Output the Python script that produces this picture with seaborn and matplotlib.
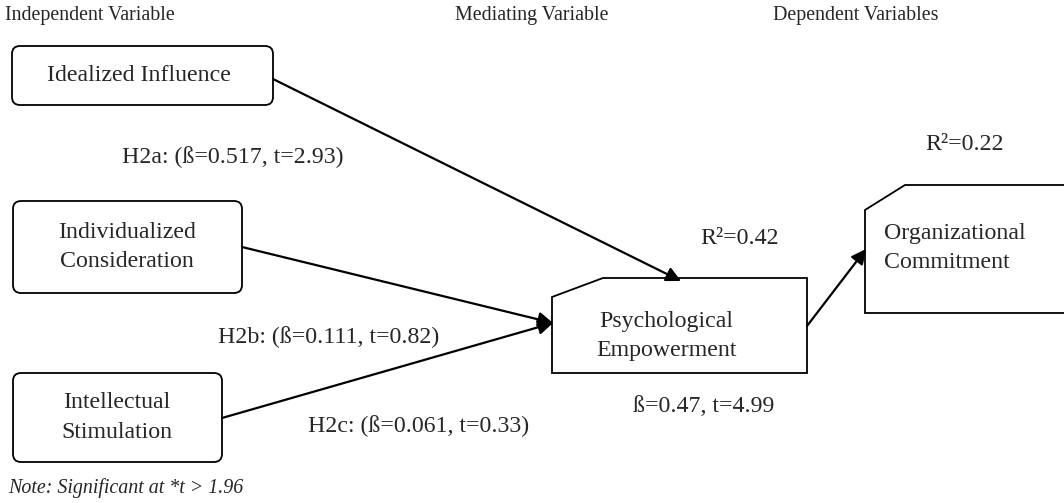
import matplotlib
matplotlib.use("Agg")
import matplotlib.pyplot as plt
import seaborn as sns
from matplotlib.patches import FancyBboxPatch, Polygon, FancyArrowPatch

# ---- data ----
headers = ["Independent Variable", "Mediating Variable", "Dependent Variables"]
independent = ["Idealized Influence", "Individualized\nConsideration", "Intellectual\nStimulation"]
mediator = "Psychological\nEmpowerment"
dependent = "Organizational\nCommitment"
path_labels = ["H2a: (ß=0.517, t=2.93)", "H2b: (ß=0.111, t=0.82)", "H2c: (ß=0.061, t=0.33)"]
mediator_path_label = "ß=0.47, t=4.99"
r2_labels = ["R²=0.42", "R²=0.22"]
note = "Note: Significant at *t > 1.96"

sns.set_theme(style="white")
plt.rcParams['font.family'] = ['Liberation Serif', 'DejaVu Serif']

fig = plt.figure(figsize=(10.64, 5.03), dpi=100)
ax = fig.add_axes([0, 0, 1, 1])
ax.set_xlim(0, 1064)
ax.set_ylim(503, 0)
ax.axis("off")

FS = 17.2
HFS = 14.4
LW = 1.3
LS = 1.52

# headers
hx = [5, 455, 773]
for t, x in zip(headers, hx):
    ax.text(x, 15, t, fontsize=HFS, ha="left", va="center")

# independent boxes (x0, y0, x1, y1)
ind_boxes = [(12, 46, 273, 105), (13, 201, 242, 293), (13, 373, 222, 462)]
ind_text_x = [139, 127, 117]
for (x0, y0, x1, y1), t, tx in zip(ind_boxes, independent, ind_text_x):
    p = FancyBboxPatch((x0 + 8, y0 + 8), (x1 - x0) - 16, (y1 - y0) - 16,
                       boxstyle="round,pad=8", fc="white", ec="black", lw=LW)
    ax.add_patch(p)
    ax.text(tx, (y0 + y1) / 2, t, fontsize=FS, ha="center", va="center",
            linespacing=LS)

# mediator box with chamfered corner
pe = [(552, 297), (603, 278), (807, 278), (807, 373), (552, 373)]
ax.add_patch(Polygon(pe, closed=True, fc="white", ec="black", lw=LW))
ax.text(666, 336, mediator, fontsize=FS, ha="center", va="center", linespacing=LS)

# dependent box (runs off right edge)
oc = [(865, 210), (905, 185), (1075, 185), (1075, 313), (865, 313)]
ax.add_patch(Polygon(oc, closed=True, fc="white", ec="black", lw=LW, clip_on=True))
ax.text(884, 248, dependent, fontsize=FS, ha="left", va="center", linespacing=LS)

# arrows
edges = [((273, 79), (681, 281)), ((242, 247), (553, 323)), ((222, 418), (553, 323)),
         ((807, 326), (866, 249))]
for (s, e) in edges:
    a = FancyArrowPatch(s, e, arrowstyle="-|>", mutation_scale=22, lw=LW + 0.3,
                        color="black", shrinkA=0, shrinkB=0)
    ax.add_patch(a)

# path labels
ax.text(122, 157, path_labels[0], fontsize=FS, ha="left", va="center")
ax.text(218, 337, path_labels[1], fontsize=FS, ha="left", va="center")
ax.text(308, 426, path_labels[2], fontsize=FS, ha="left", va="center")
ax.text(633, 407, mediator_path_label, fontsize=FS, ha="left", va="center")
ax.text(700, 238, r2_labels[0], fontsize=FS, ha="left", va="center")
ax.text(925, 145, r2_labels[1], fontsize=FS, ha="left", va="center")

ax.text(8, 488, note, fontsize=14.4, style="italic", ha="left", va="center")

fig.savefig("out.png", dpi=100)
